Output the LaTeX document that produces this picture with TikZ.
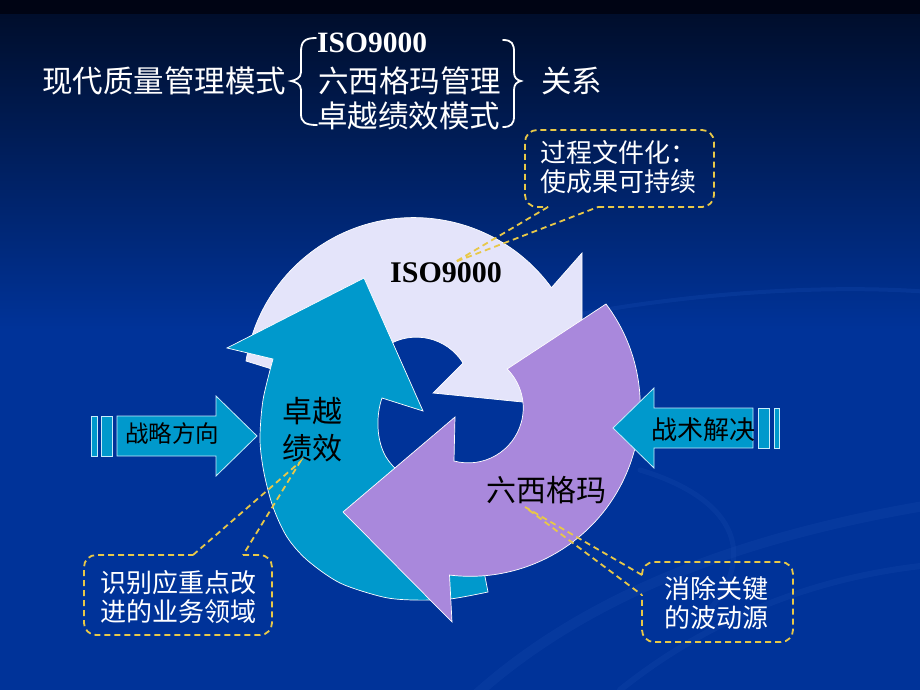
\documentclass[tikz,border=0pt]{standalone}
\usepackage{fontspec}
\setmainfont{Liberation Serif}
\newfontfamily\cjk{Noto Sans CJK SC}
\usetikzlibrary{calc}
\definecolor{bgblue}{RGB}{0,51,153}
\definecolor{bgdark}{RGB}{0,14,44}
\definecolor{bgblack}{RGB}{0,4,20}
\definecolor{lav}{RGB}{228,228,250}
\definecolor{cyanar}{RGB}{0,153,204}
\definecolor{purp}{RGB}{169,136,220}
\definecolor{dashy}{RGB}{232,200,72}
\definecolor{rimc}{RGB}{200,235,250}
\definecolor{swirlc}{RGB}{20,70,170}
\tikzset{
  ringarrow/.style={draw=white, line width=0.7pt, line join=miter},
  sidearrow/.style={fill=cyanar, draw=rimc, line width=0.8pt},
  calloutline/.style={draw=dashy, line width=1.8pt, dash pattern=on 6pt off 4pt},
  titletext/.style={text=white, inner sep=0pt, anchor=west, font=\cjk\fontsize{30.5}{36}\selectfont},
  isotitle/.style={text=white, inner sep=0pt, anchor=west, font=\bfseries\fontsize{29.5}{34}\selectfont},
  bracepath/.style={draw=white, line width=1.8pt, line cap=round},
  bigblack/.style={text=black, inner sep=0pt, align=center, font=\cjk\fontsize{30}{37}\selectfont},
  calltext/.style={text=white, inner sep=0pt, align=center, font=\cjk\fontsize{26}{28.5}\selectfont},
  swirl/.style={draw=swirlc, opacity=0.35, line cap=round}
}
\begin{document}
\begin{tikzpicture}[x=1pt,y=-1pt]
\useasboundingbox (0,0) rectangle (920,690);
% background
\fill[bgblue] (0,0) rectangle (920,690);
\shade[top color=bgdark, bottom color=bgblue] (0,14) rectangle (920,330);
\fill[bgblack] (0,0) rectangle (920,14);
% faint swirls
\draw[swirl, line width=10pt] (470,700) .. controls (600,580) and (780,530) .. (930,505);
\draw[swirl, line width=6pt] (620,690) .. controls (720,610) and (830,575) .. (930,565);
\draw[swirl, line width=4pt] (560,318) .. controls (700,290) and (840,285) .. (930,292);
\draw[swirl, line width=5pt] (640,470) .. controls (740,500) and (760,560) .. (700,620);

% ring arrows
\fill[lav, ringarrow] (246,361) arc[start angle=-171, end angle=-36, radius=170]
  -- (582,253) -- (582,408) -- (433,393) -- (463,363)
  arc[start angle=-32, end angle=-185, radius=55] -- cycle;
\fill[cyanar, ringarrow] (273,359) -- (227,348) -- (364,278) -- (423,411) -- (382,398)
  .. controls (376,415) and (376,440) .. (386,457)
  .. controls (400,480) and (440,500) .. (470,500)
  -- (488,592)
  -- plot[smooth] coordinates {(488,592) (450,599) (413,600) (383,597) (340,583) (307,560) (287,537) (273,507) (264,473) (260,440) (263,400) (273,359)}
  -- cycle;
\fill[purp, ringarrow] (606,304) arc[start angle=-37, end angle=97, radius=170]
  -- (452,622) -- (343,512) -- (455,417) -- (454,461)
  arc[start angle=105, end angle=-45, radius=55] -- cycle;

% ring labels
\node[inner sep=0pt, font=\bfseries\fontsize{30}{34}\selectfont] (iso) at (446,273) {ISO9000};
\node[bigblack] (zy) at (312,430) {卓越\\绩效};
\node[bigblack] (lx) at (546,490) {六西格玛};

% side arrows
\draw[sidearrow] (117,416) -- (216,416) -- (216,396) -- (257,436) -- (216,476) -- (216,456) -- (117,456) -- cycle;
\draw[sidearrow] (91,416) rectangle (97,456);
\draw[sidearrow] (101,416) rectangle (112,456);
\node[text=black, inner sep=0pt, font=\cjk\fontsize{23.5}{28}\selectfont] (zl) at (172,434) {战略方向};

\draw[sidearrow] (753,408) -- (654,408) -- (654,388) -- (613,428) -- (654,468) -- (654,448) -- (753,448) -- cycle;
\draw[sidearrow] (758,408) rectangle (769,448);
\draw[sidearrow] (774,408) rectangle (779,448);
\node[text=black, inner sep=0pt, font=\cjk\fontsize{26}{30}\selectfont] (zs) at (703,430) {战术解决};

% title
\node[titletext] (t0) at (42,81) {现代质量管理模式};
\node[isotitle] (t1) at (317,43) {ISO9000};
\node[titletext] (t2) at (318,81) {六西格玛管理};
\node[titletext] (t3) at (317,116) {卓越绩效模式};
\node[titletext] (t4) at (541,81) {关系};
\draw[bracepath] (316,38) .. controls (304,38) and (301,42) .. (301,52) -- (301,72)
  .. controls (301,78) and (296,80) .. (291,81)
  .. controls (296,82) and (301,84) .. (301,90) -- (301,114)
  .. controls (301,122) and (305,125) .. (317,125);
\draw[bracepath] (503,40) .. controls (512,40) and (514,44) .. (514,52) -- (514,72)
  .. controls (514,78) and (517,80) .. (521,81)
  .. controls (517,82) and (514,84) .. (514,90) -- (514,116)
  .. controls (514,124) and (511,127) .. (503,127);

% callouts
\coordinate (p1) at (455,262);
\draw[calloutline, rounded corners=12pt] (598,207) -- (714,207) -- (714,130) -- (525,130) -- (525,207) -- (548,207);
\draw[calloutline] (548,207) -- (p1) -- (598,207);
\node[calltext] (c1) at (618,167) {过程文件化：\\使成果可持续};

\coordinate (p2) at (300,462);
\draw[calloutline, rounded corners=12pt] (243,555) -- (272,555) -- (272,635) -- (84,635) -- (84,555) -- (193,555);
\draw[calloutline] (193,555) -- (p2) -- (243,555);
\node[calltext] (c2) at (178,597) {识别应重点改\\进的业务领域};

\coordinate (p3) at (525,507);
\draw[calloutline, rounded corners=12pt] (642,575) -- (642,562) -- (793,562) -- (793,642) -- (642,642) -- (642,595);
\draw[calloutline] (642,575) -- (p3) -- (642,595);
\node[calltext] (c3) at (716,603) {消除关键\\的波动源};
\end{tikzpicture}
\end{document}
